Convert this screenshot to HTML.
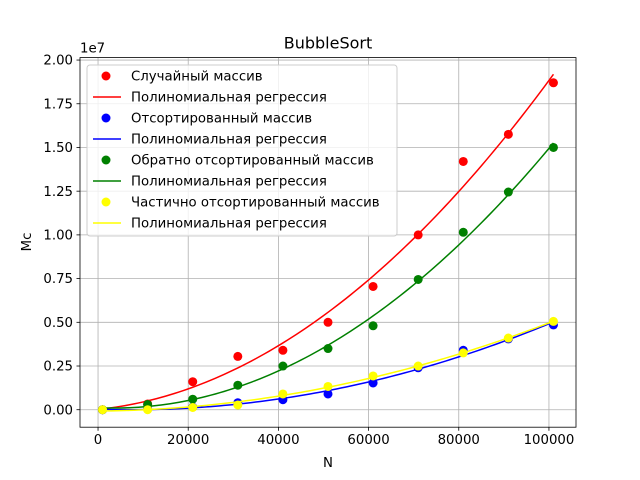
<!DOCTYPE html>
<html><head><meta charset="utf-8"><style>
body{margin:0;background:#fff}
svg{display:block;font-family:"DejaVu Sans","Liberation Sans",sans-serif}
</style></head><body>
<svg id="chart" width="640" height="480"></svg>
<script>
const xs=[1000,11000,21000,31000,41000,51000,61000,71000,81000,91000,101000];
const randomVals=[0,0.33,1.6,3.05,3.4,5.0,7.05,10.0,14.2,15.75,18.7];
const sortedVals=[0,0.05,0.15,0.4,0.57,0.9,1.53,2.4,3.4,4.05,4.85];
const reverseVals=[0,0.3,0.6,1.4,2.5,3.5,4.8,7.45,10.15,12.45,15.0];
const partialVals=[0,0.0,0.13,0.27,0.9,1.33,1.93,2.5,3.25,4.1,5.05];
const xTicks=[0,20000,40000,60000,80000,100000];
const yTicks=[0,0.25,0.5,0.75,1.0,1.25,1.5,1.75,2.0];
const legendLabels=["Случайный массив","Полиномиальная регрессия","Отсортированный массив","Полиномиальная регрессия","Обратно отсортированный массив","Полиномиальная регрессия","Частично отсортированный массив","Полиномиальная регрессия"];

const NS="http://www.w3.org/2000/svg";
const svg=document.getElementById('chart');
const L=80,R=576,T=57.6,B=427.2;
const xmin=-4000,xmax=106000,ymin=-0.1,ymax=2.014;
const X=v=>L+(v-xmin)/(xmax-xmin)*(R-L);
const Y=v=>B-(v/10-ymin)/(ymax-ymin)*(B-T);
const Yt=v=>B-(v-ymin)/(ymax-ymin)*(B-T);
function el(tag,attrs,parent){const e=document.createElementNS(NS,tag);for(const k in attrs)e.setAttribute(k,attrs[k]);(parent||svg).appendChild(e);return e;}
function txt(s,attrs){const e=el('text',attrs);e.textContent=s;return e;}

const grid=el('g',{});


xTicks.forEach(t=>{el('line',{x1:X(t),x2:X(t),y1:T,y2:B,stroke:'#b0b0b0','stroke-width':0.8},grid);});
yTicks.forEach(t=>{el('line',{x1:L,x2:R,y1:Yt(t),y2:Yt(t),stroke:'#b0b0b0','stroke-width':0.8},grid);});

const xAxis=el('g',{});


xTicks.forEach(t=>{
  el('line',{x1:X(t),x2:X(t),y1:B,y2:B+3.5,stroke:'#000','stroke-width':0.8},xAxis);
  const e=txt(String(t),{x:X(t),y:B+17,'font-size':13.3,'text-anchor':'middle'});
  
  
});
const yAxis=el('g',{});


yTicks.forEach(t=>{
  el('line',{x1:L-3.5,x2:L,y1:Yt(t),y2:Yt(t),stroke:'#000','stroke-width':0.8},yAxis);
  const e=txt(t.toFixed(2),{x:L-7,y:Yt(t)+4.6,'font-size':13.3,'text-anchor':'end'});
  
  
});
const off=txt('1e7',{x:L,y:T-5,'font-size':13.3});



function fit(vals){
  let S=[0,0,0,0,0],Ty=[0,0,0];
  xs.forEach((x0,i)=>{const x=x0/1e5;for(let k=0;k<5;k++)S[k]+=Math.pow(x,k);for(let k=0;k<3;k++)Ty[k]+=vals[i]*Math.pow(x,k);});
  const A=[[S[0],S[1],S[2],Ty[0]],[S[1],S[2],S[3],Ty[1]],[S[2],S[3],S[4],Ty[2]]];
  for(let i=0;i<3;i++){for(let j=i+1;j<3;j++){const f=A[j][i]/A[i][i];for(let k=i;k<4;k++)A[j][k]-=f*A[i][k];}}
  const c=[0,0,0];
  for(let i=2;i>=0;i--){let s=A[i][3];for(let k=i+1;k<3;k++)s-=A[i][k]*c[k];c[i]=s/A[i][i];}
  return x=>{const u=x/1e5;return c[0]+c[1]*u+c[2]*u*u;};
}
const series=[[randomVals,'red','random'],[sortedVals,'blue','sorted'],[reverseVals,'green','reverse'],[partialVals,'yellow','partial']];
series.forEach(([vals,col,nm])=>{
  const g=el('g',{});
  
  
  xs.forEach((x,i)=>{
    const c=el('circle',{cx:X(x),cy:Y(vals[i]),r:4.5,fill:col},g);
    
    
  });
  const f=fit(vals);let d='';
  for(let k=0;k<=100;k++){const x=xs[0]+(xs[xs.length-1]-xs[0])*k/100;d+=(k?'L':'M')+X(x).toFixed(2)+','+Y(f(x)).toFixed(2);}
  const p=el('path',{d:d,fill:'none',stroke:col,'stroke-width':1.5},g);
  
  
});
el('rect',{x:L,y:T,width:R-L,height:B-T,fill:'none',stroke:'#000','stroke-width':0.8});

const title=txt('BubbleSort',{x:(L+R)/2,y:T-9,'font-size':16,'text-anchor':'middle'});


const xl=txt('N',{x:(L+R)/2,y:467,'font-size':13.3,'text-anchor':'middle'});


const yl=txt('Мс',{x:0,y:0,'font-size':13.3,'text-anchor':'middle',transform:'translate(31,242) rotate(-90)'});



const lg=el('g',{});


el('rect',{x:87,y:65,width:310,height:171,rx:3,fill:'#fff','fill-opacity':0.8,stroke:'#ccc','stroke-width':1},lg);
const cols=['red','red','blue','blue','green','green','yellow','yellow'];
legendLabels.forEach((s,i)=>{
  const y=76+i*21;
  const e=el('g',{},lg);
  
  
  if(i%2==0) el('circle',{cx:106,cy:y,r:4.5,fill:cols[i]},e);
  else el('line',{x1:93,x2:121,y1:y,y2:y,stroke:cols[i],'stroke-width':1.5},e);
  const t=el('text',{x:131,y:y+4.6,'font-size':13.3},e);t.textContent=s;
});
</script>
</body></html>
